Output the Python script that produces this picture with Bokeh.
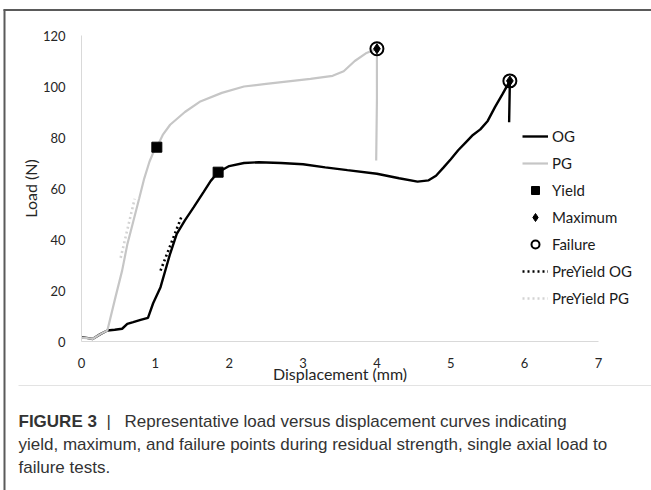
from bokeh.plotting import figure
from bokeh.models import (Range1d, FixedTicker, Legend, LegendItem, Label, BoxAnnotation)
from bokeh.embed import file_html
from bokeh.resources import INLINE

# ---- data ----
og_x = [0.0, 0.07, 0.15, 0.25, 0.35, 0.45, 0.55, 0.62, 0.7, 0.8, 0.9, 0.97, 1.07, 1.2, 1.29, 1.4, 1.52, 1.65, 1.75, 1.85,
        2.0, 2.2, 2.4, 2.7, 3.0, 3.3, 3.6, 4.0, 4.3, 4.55, 4.7, 4.8, 4.9, 5.0, 5.1, 5.2, 5.3, 5.4, 5.5, 5.6, 5.7, 5.8, 5.79]
og_y = [1.7, 1.4, 1.0, 2.8, 4.3, 4.6, 5.0, 6.9, 7.6, 8.5, 9.3, 15.0, 21.3, 34.4, 42.2, 47.5, 52.7, 58.5, 63.0, 66.4,
        68.8, 70.0, 70.3, 70.0, 69.5, 68.3, 67.2, 65.8, 64.0, 62.7, 63.2, 65.0, 68.2, 71.5, 75.0, 78.0, 81.0, 83.2, 86.5, 92.0, 97.0, 102.2, 86.0]

pg_x = [0.0, 0.07, 0.15, 0.25, 0.35, 0.46, 0.55, 0.62, 0.7, 0.78, 0.85, 0.92, 0.97, 1.02, 1.1, 1.2, 1.4, 1.6, 1.9, 2.2, 2.5,
        2.8, 3.1, 3.4, 3.55, 3.7, 3.85, 4.0, 4.0, 3.99]
pg_y = [1.5, 1.3, 1.0, 2.8, 4.3, 17.4, 27.8, 38.0, 47.0, 56.0, 64.0, 70.5, 74.0, 76.2, 81.0, 85.0, 90.0, 94.0, 97.5, 100.0, 101.0,
        102.0, 103.0, 104.2, 106.0, 110.0, 113.0, 114.8, 95.0, 71.0]

yield_x = [1.85, 1.02]
yield_y = [66.4, 76.2]
max_x = [5.80, 4.0]
max_y = [102.2, 114.8]
fail_x = [5.80, 4.0]
fail_y = [102.2, 114.8]

pre_og_x = [1.07, 1.36]
pre_og_y = [27.8, 49.4]
pre_pg_x = [0.53, 0.72]
pre_pg_y = [32.8, 56.0]

x_ticks = [0, 1, 2, 3, 4, 5, 6, 7]
y_ticks = [0, 20, 40, 60, 80, 100, 120]

caption_bold = "FIGURE 3"
caption_line1 = "Representative load versus displacement curves indicating"
caption_line2 = "yield, maximum, and failure points during residual strength, single axial load to"
caption_line3 = "failure tests."

FONT = "Lato"

# layout: frame covers the whole canvas; data 0..7 / 0..120 occupy the chart region
W, H = 651, 490
PX_X = 517 / 7.0     # pixels per mm
PX_Y = 306 / 120.0   # pixels per N
x0 = -81 / PX_X
x1 = 7 + (W - 598) / PX_X
y0 = -(H - 341) / PX_Y
y1 = 120 + 35 / PX_Y

p = figure(width=W, height=H, output_backend="svg", toolbar_location=None,
           x_range=Range1d(x0, x1), y_range=Range1d(y0, y1),
           min_border_left=0, min_border_right=0, min_border_top=0, min_border_bottom=0)
p.outline_line_color = None
p.xgrid.visible = False
p.ygrid.visible = False
p.background_fill_color = "white"
p.border_fill_color = "white"

for ax in (p.xaxis[0], p.yaxis[0]):
    ax.axis_line_color = "#d9d9d9"
    ax.axis_line_width = 1
    ax.major_tick_line_color = None
    ax.minor_tick_line_color = None
    ax.major_label_text_font = FONT
    ax.major_label_text_font_size = "13px"
    ax.major_label_text_color = "#262626"
    ax.axis_label_text_font = FONT
    ax.axis_label_text_font_size = "16px"
    ax.axis_label_text_font_style = "normal"
    ax.axis_label_text_color = "#262626"

p.xaxis.fixed_location = 0
p.yaxis.fixed_location = 0
p.xaxis.bounds = (0, 7)
p.yaxis.bounds = (0, 120)
p.xaxis.ticker = FixedTicker(ticks=x_ticks)
p.yaxis.ticker = FixedTicker(ticks=y_ticks)
p.xaxis.axis_label = "Displacement (mm)"
p.yaxis.axis_label = "Load (N)"
p.xaxis.major_label_standoff = 10
p.xaxis.axis_label_standoff = -7
p.yaxis.major_label_standoff = 10
p.yaxis.axis_label_standoff = 0

r_og = p.line(og_x, og_y, line_color="black", line_width=2.4)
r_pg = p.line(pg_x, pg_y, line_color="#c6c6c6", line_width=2.2)
r_pre_og = p.line(pre_og_x, pre_og_y, line_color="black", line_width=2.6, line_dash="2 3")
r_pre_pg = p.line(pre_pg_x, pre_pg_y, line_color="#d3d3d3", line_width=2.6, line_dash="2 3")
r_yield = p.scatter(yield_x, yield_y, marker="square", size=10, fill_color="black", line_color="black")
r_max = p.scatter(max_x, max_y, marker="diamond", size=10, fill_color="black", line_color="black")
r_fail = p.scatter(fail_x, fail_y, marker="circle", size=13, fill_color=None, line_color="black", line_width=2)

legend = Legend(items=[
    LegendItem(label="OG", renderers=[r_og]),
    LegendItem(label="PG", renderers=[r_pg]),
    LegendItem(label="Yield", renderers=[r_yield]),
    LegendItem(label="Maximum", renderers=[r_max]),
    LegendItem(label="Failure", renderers=[r_fail]),
    LegendItem(label="PreYield OG", renderers=[r_pre_og]),
    LegendItem(label="PreYield PG", renderers=[r_pre_pg]),
], location=(522, 182))
legend.glyph_width = 26
legend.glyph_height = 20
legend.label_height = 20
legend.spacing = 7
legend.padding = 0
legend.margin = 0
legend.label_standoff = 4
legend.border_line_color = None
legend.background_fill_alpha = 0
legend.label_text_font = FONT
legend.label_text_font_size = "15px"
legend.label_text_color = "#1a1a1a"
p.add_layout(legend, "center")

scr = dict(left_units="screen", right_units="screen", top_units="screen", bottom_units="screen")
# figure frame (left and top edges) and caption separator
p.add_layout(BoxAnnotation(left=3, right=5, bottom=0, top=481, fill_color="#5a5a5a", fill_alpha=1,
                           line_color=None, **scr))
p.add_layout(BoxAnnotation(left=3, right=W, bottom=479.5, top=481.5, fill_color="#5a5a5a", fill_alpha=1,
                           line_color=None, **scr))
p.add_layout(BoxAnnotation(left=18, right=W, bottom=104.5, top=105.5, fill_color="#e3e3e3", fill_alpha=1,
                           line_color=None, **scr))

CAP_FONT = "Liberation Sans Narrow, Liberation Sans"
cap_kw = dict(x_units="screen", y_units="screen", text_font=CAP_FONT, text_font_size="17px",
              text_color="#333333", text_baseline="middle")
p.add_layout(Label(x=18, y=69, text=caption_bold, text_font_style="bold", **cap_kw))
p.add_layout(Label(x=106, y=69, text="|", **cap_kw))
p.add_layout(Label(x=124, y=69, text=caption_line1, **cap_kw))
p.add_layout(Label(x=18, y=46, text=caption_line2, **cap_kw))
p.add_layout(Label(x=18, y=23, text=caption_line3, **cap_kw))

open("out.html", "w").write(file_html(p, INLINE))
